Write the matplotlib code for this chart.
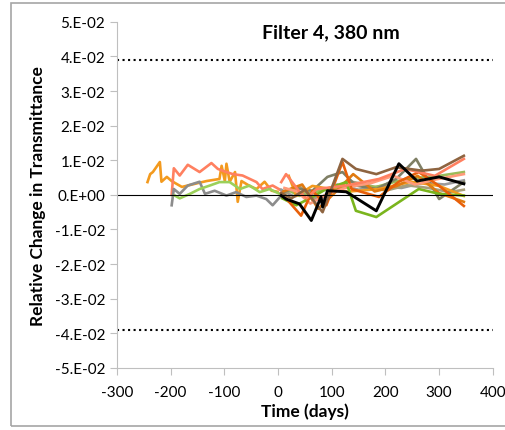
import matplotlib
matplotlib.use('Agg')
import matplotlib.pyplot as plt
import matplotlib.ticker as mticker
from matplotlib.patches import Rectangle

plt.rcParams['font.family'] = ['Lato', 'DejaVu Sans']
plt.rcParams['axes.unicode_minus'] = False

# --- Data: pre-launch series (days, relative change) ---
pre_orange_t = [-243, -238, -233, -220, -217, -207, -198, -179, -133, -109, -105, -99, -96, -90, -80, -75, -68, -53, -40, -25, -12, -1]
pre_orange_v = [0.0037, 0.0060, 0.0066, 0.0095, 0.0038, 0.0052, 0.0040, 0.0023, 0.0040, 0.0046, 0.0084, 0.0040, 0.0090, 0.0038, 0.0066, -0.0020, 0.0040, 0.0026, 0.0017, 0.0038, 0.0012, 0.0009]

pre_coral_t = [-198, -194, -183, -168, -146, -124, -112, -96, -84, -66, -40, -29, -10, 6]
pre_coral_v = [0.0000, 0.0077, 0.0056, 0.0087, 0.0066, 0.0092, 0.0075, 0.0066, 0.0060, 0.0056, 0.0037, 0.0017, 0.0027, 0.0013]

pre_gray_t = [-198, -194, -183, -168, -146, -136, -118, -96, -78, -59, -40, -22, -10, 6]
pre_gray_v = [-0.0030, 0.0017, 0.0003, 0.0027, 0.0038, 0.0003, 0.0012, -0.0002, 0.0008, -0.0006, -0.0002, -0.0012, -0.0030, -0.0002]

pre_green_t = [-192, -183, -164, -146, -127, -109, -90, -71, -53, -34, -16, 3]
pre_green_v = [-0.0002, -0.0010, 0.0003, 0.0017, 0.0027, 0.0037, 0.0037, 0.0017, 0.0027, 0.0008, 0.0017, 0.0003]

# --- Data: post-launch series ---
black_t = [6, 15, 40, 62, 80, 83, 92, 127, 183, 225, 259, 300, 346]
black_v = [-0.0002, -0.0012, -0.0026, -0.0074, -0.0006, -0.0035, 0.0012, 0.0009, -0.0046, 0.0090, 0.0040, 0.0052, 0.0032]

brown_t = [6, 25, 50, 83, 100, 120, 145, 183, 220, 268, 300, 346]
brown_v = [0.0005, -0.0010, 0.0015, -0.0050, 0.0020, 0.0104, 0.0075, 0.0060, 0.0080, 0.0070, 0.0075, 0.0113]

coral_t = [6, 15, 40, 53, 72, 127, 188, 237, 292, 346]
coral_v = [0.0037, 0.0060, 0.0009, -0.0010, 0.0017, 0.0027, 0.0046, 0.0075, 0.0055, 0.0104]

dkorange_t = [15, 43, 64, 90, 120, 137, 188, 225, 262, 300, 346]
dkorange_v = [-0.0010, -0.0060, 0.0012, -0.0030, 0.0095, 0.0017, -0.0006, 0.0038, 0.0066, 0.0026, -0.0032]

ygreen_t = [8, 34, 64, 90, 127, 145, 183, 262, 300, 346]
ygreen_v = [-0.0010, -0.0030, -0.0006, 0.0017, 0.0037, -0.0046, -0.0064, 0.0017, 0.0003, -0.0002]

olive_t = [6, 30, 64, 92, 120, 145, 183, 220, 257, 300, 346]
olive_v = [0.0005, 0.0020, 0.0012, 0.0052, 0.0066, 0.0027, 0.0017, 0.0046, 0.0104, -0.0012, 0.0037]

ltgreen_t = [15, 40, 92, 145, 183, 237, 300, 346]
ltgreen_v = [0.0017, -0.0003, 0.0017, 0.0027, 0.0023, 0.0046, 0.0055, 0.0066]

gray_t = [6, 30, 55, 80, 110, 150, 190, 230, 270, 310, 346]
gray_v = [0.0015, -0.0005, 0.0010, -0.0020, 0.0030, 0.0015, 0.0025, 0.0020, 0.0035, 0.0030, 0.0042]

orange_t = [20, 34, 64, 127, 188, 248, 300, 346]
orange_v = [0.0055, -0.0003, 0.0026, 0.0009, 0.0017, 0.0038, 0.0026, -0.0003]

orange2_t = [10, 45, 75, 105, 140, 180, 220, 260, 300, 346]
orange2_v = [0.0010, 0.0030, -0.0040, 0.0005, 0.0060, 0.0010, 0.0025, 0.0055, 0.0005, -0.0020]

khaki_t = [8, 40, 70, 100, 130, 165, 200, 240, 280, 320, 346]
khaki_v = [0.0000, 0.0025, -0.0015, 0.0010, 0.0040, 0.0030, 0.0012, 0.0028, 0.0020, 0.0008, 0.0015]

salmon_t = [12, 35, 60, 95, 130, 175, 215, 255, 295, 346]
salmon_v = [0.0020, 0.0010, -0.0025, 0.0005, 0.0022, 0.0035, 0.0055, 0.0030, 0.0045, 0.0060]

limit = 0.039
y_ticks = [0.05, 0.04, 0.03, 0.02, 0.01, 0.0, -0.01, -0.02, -0.03, -0.04, -0.05]
x_ticks = [-300, -200, -100, 0, 100, 200, 300, 400]


def sci_fmt(y, pos):
    if abs(y) < 1e-12:
        return '0.E+00'
    s = '%.0E' % y
    mant, exp = s.split('E')
    return mant + '.E' + exp


fig = plt.figure(figsize=(5.06, 4.31), dpi=100)
ax = fig.add_axes([0.231, 0.144, 0.743, 0.803])

# figure border like the Excel chart frame
fig.patches.append(Rectangle((11 / 506, 4 / 431), 1.2, 1 - 8 / 431, transform=fig.transFigure,
                             fill=False, edgecolor='#a6a6a6', linewidth=1.2))

lw = 1.9
ax.plot(pre_orange_t, pre_orange_v, color='#F39A1E', lw=lw)
ax.plot(pre_coral_t, pre_coral_v, color='#FF8060', lw=lw)
ax.plot(pre_gray_t, pre_gray_v, color='#8C8C8C', lw=lw)
ax.plot(pre_green_t, pre_green_v, color='#9BD05A', lw=lw)

ax.plot(gray_t, gray_v, color='#9A9A9A', lw=lw)
ax.plot(khaki_t, khaki_v, color='#A89F7A', lw=lw)
ax.plot(ltgreen_t, ltgreen_v, color='#9BBB59', lw=lw)
ax.plot(olive_t, olive_v, color='#7F7F65', lw=lw)
ax.plot(orange_t, orange_v, color='#F39A1E', lw=lw)
ax.plot(orange2_t, orange2_v, color='#E07A10', lw=lw)
ax.plot(salmon_t, salmon_v, color='#FF9A7A', lw=lw)
ax.plot(ygreen_t, ygreen_v, color='#7AB51D', lw=lw)
ax.plot(dkorange_t, dkorange_v, color='#E8600A', lw=lw)
ax.plot(coral_t, coral_v, color='#FF8060', lw=lw)
ax.plot(brown_t, brown_v, color='#8E6440', lw=lw)
ax.plot(black_t, black_v, color='black', lw=lw + 0.2)

ax.axhline(0, color='black', lw=0.8)
ax.plot([-300, 400], [limit, limit], color='black', ls=':', lw=1.5)
ax.plot([-300, 400], [-limit, -limit], color='black', ls=':', lw=1.5)

ax.set_xlim(-300, 400)
ax.set_ylim(-0.05, 0.05)
ax.set_xticks(x_ticks)
ax.set_yticks(y_ticks)
ax.yaxis.set_major_formatter(mticker.FuncFormatter(sci_fmt))

for s in ['top', 'right']:
    ax.spines[s].set_visible(False)
for s in ['left', 'bottom']:
    ax.spines[s].set_color('#bfbfbf')
ax.tick_params(axis='both', colors='#bfbfbf', labelcolor='black', labelsize=11, length=5)
ax.tick_params(axis='x', pad=7)

ax.set_xlabel('Time (days)', fontsize=12.5, fontweight='bold', labelpad=3)
ax.set_ylabel('Relative Change in Transmittance', fontsize=12.5, fontweight='bold', labelpad=6)
ax.text(0.57, 0.97, 'Filter 4, 380 nm', transform=ax.transAxes, ha='center', va='center',
        fontsize=14, fontweight='bold')

fig.savefig('out.png', dpi=100)
